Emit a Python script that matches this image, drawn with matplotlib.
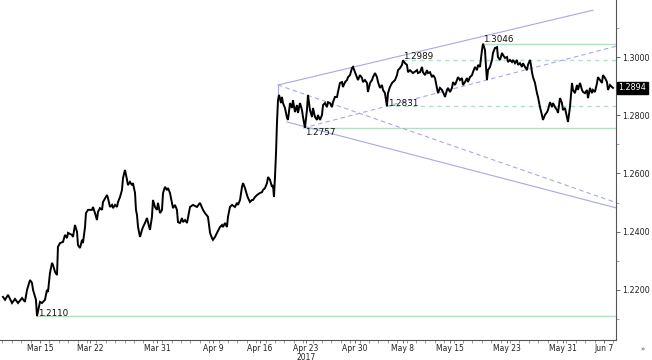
import matplotlib
matplotlib.use("Agg")
import matplotlib.pyplot as plt
from matplotlib.ticker import FixedLocator, MultipleLocator, FuncFormatter

# ---- data (x = trading days counted from Mon 13 Mar 2017, weekends removed) ----
days = [-1.94, -1.72, -1.40, -0.98, -0.66, -0.34, 0.09, 0.40, 0.62, 0.94, 1.15, 1.26, 1.57, 1.68,
        2.00, 2.21, 2.53, 2.74, 2.85, 3.06, 3.28, 3.38, 3.60, 3.81, 3.91, 4.13, 4.45, 4.66, 4.87,
        4.98, 5.40, 5.51, 5.72, 5.94, 6.04, 6.26, 6.47, 6.57, 6.79, 6.89, 7.11, 7.53, 7.64, 7.85,
        8.06, 8.17, 8.38, 8.60, 8.70, 9.13, 9.23, 9.45, 9.66, 9.77, 9.98, 10.19, 10.30, 10.51,
        10.72, 10.83, 11.04, 11.26, 11.36, 11.57, 11.79, 11.89, 12.11, 12.21, 12.32, 12.43, 12.64,
        12.85, 12.96, 13.17, 13.38, 13.49, 13.70, 13.91, 14.02, 14.23, 14.45, 14.55, 14.77, 14.98,
        15.09, 15.30, 15.51, 15.62, 15.83, 16.04, 16.15, 16.36, 16.57, 16.68, 16.89, 17.11, 17.21,
        17.43, 17.64, 17.74, 17.96, 18.28, 18.70, 19.02, 19.34, 19.55, 19.87, 20.09, 20.30, 20.40,
        20.62, 20.83, 21.15, 21.36, 21.47, 21.68, 21.89, 22.00, 22.21, 22.43, 22.74, 22.96, 23.06,
        23.28, 23.49, 23.60, 23.81, 24.02, 24.13, 24.34, 24.55, 24.66, 24.87, 25.09, 25.40, 25.62,
        25.72, 25.94, 26.15, 26.26, 26.47, 26.68, 26.79, 26.89, 27.00, 27.11, 27.21, 27.32, 27.43,
        27.64, 27.74, 27.85, 28.06, 28.28, 28.38, 28.60, 28.81, 28.91, 29.13, 29.34, 29.45, 29.66,
        29.87, 29.98, 30.19, 30.40, 30.51, 30.72, 30.94, 31.04, 31.26, 31.47, 31.57, 31.79, 32.00,
        32.11, 32.32, 32.53, 32.64, 32.85, 33.06, 33.17, 33.38, 33.60, 33.70, 33.91, 34.13, 34.23,
        34.45, 34.66, 34.77, 34.98, 35.19, 35.30, 35.51, 35.72, 35.83, 36.04, 36.26, 36.36, 36.57,
        36.79, 36.89, 37.11, 37.32, 37.43, 37.64, 37.85, 37.96, 38.17, 38.38, 38.49, 38.70, 38.91,
        39.02, 39.23, 39.45, 39.55, 39.77, 39.98, 40.09, 40.30, 40.51, 40.62, 40.83, 41.04, 41.15,
        41.36, 41.68, 42.11, 42.21, 42.43, 42.64, 42.74, 42.96, 43.17, 43.28, 43.49, 43.70, 43.81,
        44.02, 44.23, 44.34, 44.55, 44.77, 44.87, 45.09, 45.30, 45.40, 45.62, 45.83, 45.94, 46.15,
        46.36, 46.47, 46.68, 46.89, 47.00, 47.21, 47.43, 47.53, 47.74, 47.96, 48.06, 48.28, 48.49,
        48.60, 48.81, 49.02, 49.13, 49.34, 49.45, 49.55, 49.66, 49.87, 50.09, 50.19, 50.40, 50.62,
        50.72, 50.94, 51.15, 51.26, 51.47, 51.68, 51.79, 52.00, 52.21, 52.32, 52.53, 52.74, 52.85,
        53.06, 53.28, 53.38, 53.60, 53.81, 53.91, 54.13, 54.23, 54.34, 54.45, 54.66, 54.87, 54.98,
        55.19, 55.40, 55.51, 55.72, 55.94, 56.04, 56.26, 56.47, 56.57, 56.79, 57.00, 57.11, 57.32,
        57.53, 57.64, 57.85, 58.06, 58.17, 58.38, 58.60, 58.70, 58.91, 59.13, 59.23, 59.45, 59.66,
        59.77, 59.98, 60.19, 60.30, 60.51, 60.72, 60.83, 61.04, 61.26, 61.36, 61.57, 61.79, 61.89,
        62.11, 62.32, 62.43, 62.64, 62.85, 62.96]

prices = [1.2176, 1.2166, 1.2183, 1.2155, 1.2169, 1.2155, 1.2172, 1.2159, 1.2200, 1.2234, 1.2224,
          1.2200, 1.2166, 1.2110, 1.2159, 1.2155, 1.2166, 1.2200, 1.2193, 1.2258, 1.2293, 1.2286,
          1.2262, 1.2251, 1.2348, 1.2361, 1.2365, 1.2389, 1.2378, 1.2396, 1.2389, 1.2382, 1.2423,
          1.2399, 1.2354, 1.2344, 1.2372, 1.2361, 1.2416, 1.2464, 1.2475, 1.2475, 1.2485, 1.2464,
          1.2440, 1.2468, 1.2481, 1.2475, 1.2502, 1.2526, 1.2516, 1.2485, 1.2492, 1.2481, 1.2492,
          1.2485, 1.2502, 1.2519, 1.2543, 1.2584, 1.2612, 1.2578, 1.2560, 1.2571, 1.2560, 1.2567,
          1.2533, 1.2475, 1.2457, 1.2416, 1.2382, 1.2406, 1.2416, 1.2430, 1.2447, 1.2433, 1.2406,
          1.2451, 1.2509, 1.2485, 1.2475, 1.2499, 1.2464, 1.2475, 1.2533, 1.2554, 1.2543, 1.2550,
          1.2533, 1.2499, 1.2481, 1.2492, 1.2475, 1.2433, 1.2430, 1.2447, 1.2433, 1.2440, 1.2430,
          1.2447, 1.2485, 1.2492, 1.2485, 1.2499, 1.2475, 1.2464, 1.2451, 1.2396, 1.2378, 1.2372,
          1.2382, 1.2396, 1.2416, 1.2423, 1.2416, 1.2430, 1.2416, 1.2451, 1.2485, 1.2492, 1.2485,
          1.2499, 1.2492, 1.2509, 1.2554, 1.2567, 1.2550, 1.2526, 1.2516, 1.2502, 1.2509, 1.2509,
          1.2519, 1.2526, 1.2533, 1.2536, 1.2543, 1.2550, 1.2567, 1.2588, 1.2578, 1.2554, 1.2560,
          1.2519, 1.2588, 1.2670, 1.2773, 1.2852, 1.2870, 1.2842, 1.2863, 1.2842, 1.2825, 1.2791,
          1.2784, 1.2842, 1.2825, 1.2852, 1.2811, 1.2835, 1.2808, 1.2842, 1.2818, 1.2794, 1.2757,
          1.2818, 1.2870, 1.2818, 1.2794, 1.2825, 1.2794, 1.2784, 1.2801, 1.2784, 1.2801, 1.2835,
          1.2842, 1.2828, 1.2845, 1.2842, 1.2828, 1.2845, 1.2863, 1.2863, 1.2880, 1.2911, 1.2914,
          1.2897, 1.2914, 1.2921, 1.2931, 1.2938, 1.2962, 1.2966, 1.2948, 1.2931, 1.2921, 1.2938,
          1.2928, 1.2914, 1.2921, 1.2911, 1.2880, 1.2911, 1.2921, 1.2931, 1.2945, 1.2931, 1.2914,
          1.2894, 1.2904, 1.2887, 1.2876, 1.2831, 1.2876, 1.2897, 1.2911, 1.2914, 1.2921, 1.2938,
          1.2955, 1.2962, 1.2973, 1.2989, 1.2979, 1.2973, 1.2948, 1.2955, 1.2945, 1.2955, 1.2945,
          1.2948, 1.2966, 1.2948, 1.2938, 1.2955, 1.2945, 1.2948, 1.2931, 1.2938, 1.2928, 1.2894,
          1.2876, 1.2894, 1.2887, 1.2880, 1.2863, 1.2887, 1.2894, 1.2880, 1.2894, 1.2914, 1.2904,
          1.2921, 1.2931, 1.2921, 1.2928, 1.2904, 1.2914, 1.2928, 1.2914, 1.2931, 1.2938, 1.2948,
          1.2966, 1.2955, 1.2973, 1.2966, 1.3024, 1.3046, 1.3024, 1.2966, 1.2921, 1.2955, 1.2966,
          1.2990, 1.3014, 1.3031, 1.3034, 1.3000, 1.2990, 1.3014, 1.3007, 1.2997, 1.3000, 1.2983,
          1.2990, 1.2983, 1.2990, 1.2979, 1.2990, 1.2973, 1.2979, 1.2966, 1.2979, 1.2966, 1.2955,
          1.2973, 1.2990, 1.2973, 1.2948, 1.2931, 1.2911, 1.2876, 1.2863, 1.2828, 1.2801, 1.2784,
          1.2801, 1.2811, 1.2818, 1.2845, 1.2828, 1.2842, 1.2828, 1.2818, 1.2808, 1.2859, 1.2842,
          1.2818, 1.2825, 1.2794, 1.2777, 1.2828, 1.2911, 1.2887, 1.2876, 1.2904, 1.2887, 1.2911,
          1.2887, 1.2880, 1.2876, 1.2887, 1.2859, 1.2894, 1.2876, 1.2887, 1.2880, 1.2911, 1.2931,
          1.2921, 1.2911, 1.2938, 1.2928, 1.2914, 1.2887, 1.2904, 1.2897, 1.2894]

tick_days = [2.0, 7.3, 14.45, 20.4, 25.4, 30.3, 35.5, 40.6, 45.6, 51.7, 57.6, 62.0]
tick_labels = ["Mar 15", "Mar 22", "Mar 31", "Apr 9", "Apr 16", "Apr 23\n2017",
               "Apr 30", "May 8", "May 15", "May 23", "May 31", "Jun 7"]
y_ticks = [1.22, 1.24, 1.26, 1.28, 1.30]

# horizontal levels: value, start day, style
level_values = [1.3046, 1.2989, 1.2831, 1.2757, 1.2110]
level_starts = [49.13, 40.62, 38.91, 30.19, 1.68]
level_dashed = [False, True, True, False, False]
level_label_offsets = [(0, 3.0), (0, 2.8), (0.7, 2.2), (0, -3.3), (0.7, 2.0)]

# channel / trend lines: (day0, price0, day1, price1, dashed)
trend_lines = [
    (27.32, 1.2904, 60.83, 1.3161, False),   # upper channel
    (28.28, 1.2777, 63.38, 1.2481, False),   # lower channel
    (27.32, 1.2904, 63.38, 1.2499, True),    # falling dashed
    (29.98, 1.2756, 63.38, 1.3038, True),    # rising dashed
]
last_price = 1.2894

# ---- figure ----
fig = plt.figure(figsize=(6.52, 3.6), dpi=100)
ax = fig.add_axes([0.0, 0.0556, 0.9448, 0.9444])
ax.set_xlim(-2.255, 63.28)
ax.set_ylim(1.2028, 1.3196)

lav = "#a8a8e2"
grn = "#b3e0c4"

for v, s, d in zip(level_values, level_starts, level_dashed):
    ax.plot([s, 63.28], [v, v], color=grn, lw=1.0,
            ls=(0, (3, 3)) if d else "-", zorder=1)

for x0, y0, x1, y1, d in trend_lines:
    ax.plot([x0, x1], [y0, y1], color=lav, lw=0.8,
            ls=(0, (4, 3)) if d else "-", zorder=1)
ax.plot([27.32, 27.32], [1.2904, 1.2852], color=lav, lw=0.8, zorder=1)

ax.plot(days, prices, color="black", lw=1.4, zorder=3, solid_joinstyle="miter")

for v, s, off in zip(level_values, level_starts, level_label_offsets):
    ax.annotate(f"{v:.4f}", (s, v), xytext=off, textcoords="offset points",
                fontsize=6.3, color="#111111", va="center", ha="left", zorder=4)

# axes styling
for sp in ["left", "top"]:
    ax.spines[sp].set_visible(False)
for sp in ["right", "bottom"]:
    ax.spines[sp].set_color("#555555")
    ax.spines[sp].set_linewidth(0.8)

ax.yaxis.tick_right()
ax.yaxis.set_major_locator(FixedLocator(y_ticks))
ax.yaxis.set_minor_locator(MultipleLocator(0.01))
ax.yaxis.set_major_formatter(FuncFormatter(lambda v, p: f"{v:.4f}"))
ax.tick_params(axis="y", which="major", length=3, width=0.6, color="#555555",
               labelsize=5.8, labelcolor="#222222", pad=1.5)
ax.tick_params(axis="y", which="minor", length=2, width=0.5, color="#777777")

ax.xaxis.set_major_locator(FixedLocator(tick_days))
ax.xaxis.set_minor_locator(MultipleLocator(1.0))
ax.set_xticklabels(tick_labels)
for lbl in ax.get_xticklabels():
    lbl.set_linespacing(0.95)
ax.tick_params(axis="x", which="major", length=2, width=0.6, color="#555555",
               labelsize=5.5, labelcolor="#222222", pad=0.8)
ax.tick_params(axis="x", which="minor", length=1.8, width=0.5, color="#777777")

ax.text(1.004, last_price, f"{last_price:.4f}", transform=ax.get_yaxis_transform(),
        fontsize=5.8, color="white", va="center", ha="left",
        bbox=dict(boxstyle="square,pad=0.2", fc="black", ec="black"), zorder=5,
        clip_on=False)

fig.text(0.985, 0.028, "»", fontsize=5, color="#444444", ha="center", va="center")

fig.savefig("out.png", dpi=100)
